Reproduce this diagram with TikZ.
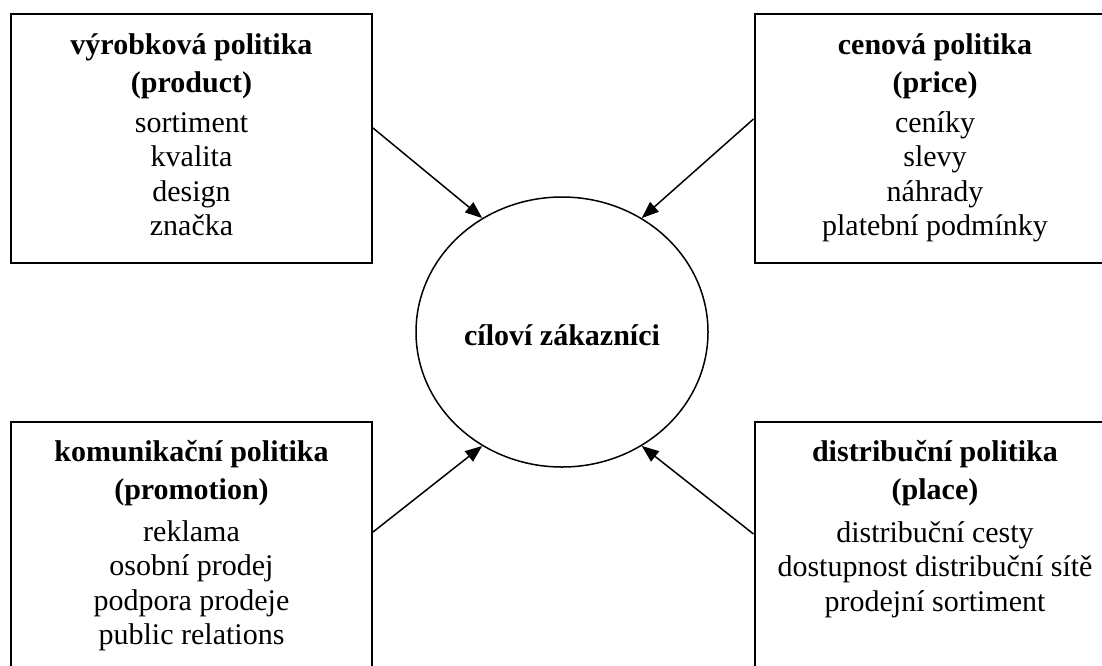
\documentclass[tikz,border=0pt]{standalone}
\usepackage{fontspec}
\setmainfont{Liberation Serif}
\usetikzlibrary{shapes.geometric,arrows.meta}

\begin{document}
\begin{tikzpicture}[x=1pt,y=-1pt]
\tikzset{
  box/.style={draw, line width=2pt, minimum width=361pt, inner sep=0pt},
  head/.style={anchor=base, align=center, font=\bfseries\fontsize{30}{38}\selectfont},
  items/.style={anchor=base, align=center, font=\fontsize{30}{34.5}\selectfont},
  link/.style={line width=1.5pt, -{Triangle[length=17pt,width=13pt]}}
}
\clip (0,0) rectangle (1102,665);
% the four boxes (text placed at the baseline of its last line)
\node[box, minimum height=249pt] (product) at (191.5,138.5) {};
\node[box, minimum height=249pt] (price) at (935,138.5) {};
\node[box, minimum height=300pt] (promotion) at (191.5,572) {};
\node[box, minimum height=300pt] (place) at (935,572) {};
\node[head] (product-head) at (191.5,92) {výrobková politika\\(product)};
\node[items] (product-items) at (191.5,235.5) {sortiment\\kvalita\\design\\značka};
\node[head] (price-head) at (935,92) {cenová politika\\(price)};
\node[items] (price-items) at (935,235.5) {ceníky\\slevy\\náhrady\\platební podmínky};
\node[head] (promotion-head) at (191.5,499) {komunikační politika\\(promotion)};
\node[items] (promotion-items) at (191.5,644.5) {reklama\\osobní prodej\\podpora prodeje\\public relations};
\node[head] (place-head) at (935,499) {distribuční politika\\(place)};
\node[items] (place-items) at (935,611) {distribuční cesty\\dostupnost distribuční sítě\\prodejní sortiment};
% customers in the middle
\node[ellipse, draw, line width=1.5pt, minimum width=292pt, minimum height=270pt, inner sep=0pt,
  font=\bfseries\fontsize{30}{36}\selectfont] (target) at (562,332) {};
\node[anchor=base, font=\bfseries\fontsize{30}{36}\selectfont] (target-text) at (562,345) {cíloví zákazníci};
\draw[link] ([yshift=-115pt]product.north east) -- (target.125);
\draw[link] ([yshift=-106pt]price.north west) -- (target.55);
\draw[link] ([yshift=-111pt]promotion.north east) -- (target.235);
\draw[link] ([yshift=-113pt]place.north west) -- (target.305);
\end{tikzpicture}
\end{document}
